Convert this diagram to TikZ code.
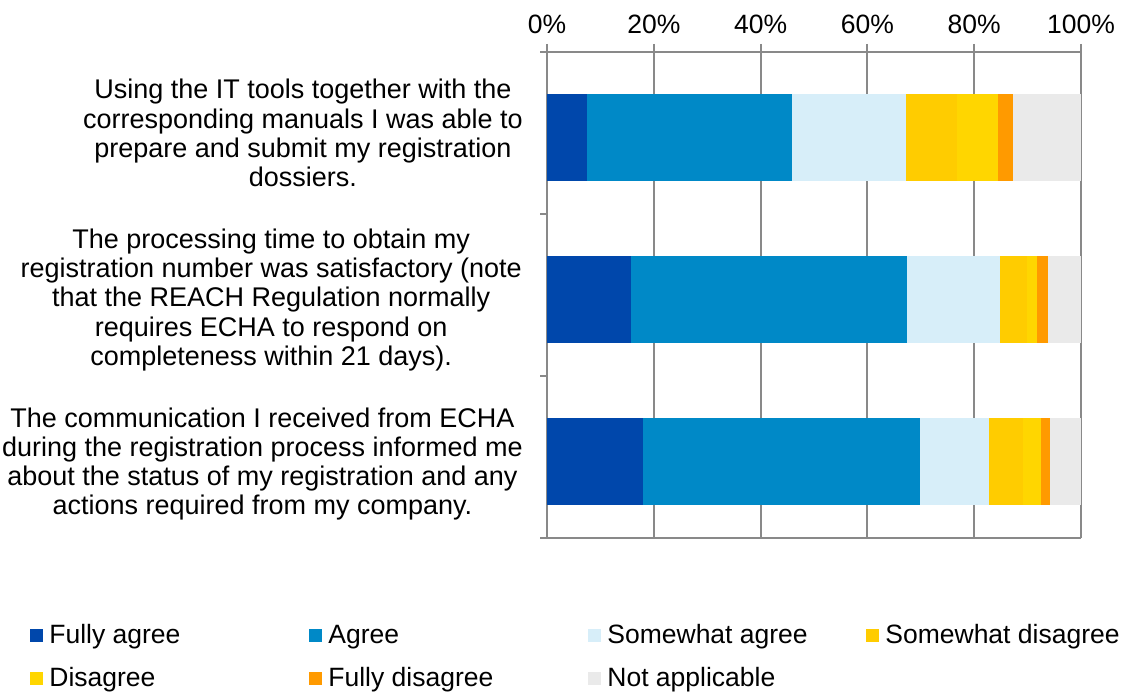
\documentclass[tikz,border=0pt]{standalone}
\usepackage{fontspec}
\setmainfont{Liberation Sans}
\usepackage{tikz}
\usetikzlibrary{arrows}
\usetikzlibrary{positioning}
\tikzset{>=latex}

\definecolor{fullyagree}{HTML}{0047AB}
\definecolor{agree}{HTML}{0089C7}
\definecolor{swagree}{HTML}{D7EEF9}
\definecolor{swdisagree}{HTML}{FFCC00}
\definecolor{disagree}{HTML}{FFD600}
\definecolor{fullydisagree}{HTML}{FF9A00}
\definecolor{notapplic}{HTML}{EAEAEA}
\definecolor{gridgrey}{HTML}{898989}

\tikzset{
  gridline/.style={draw=gridgrey, line width=2pt},
  question/.style={anchor=east, align=center, inner sep=0pt,
    font=\fontsize{27}{29.3}\selectfont},
  legendkey/.style={minimum size=13pt, inner sep=0pt},
  legendtext/.style={inner sep=0pt, anchor=west, yshift=-2pt}
}

% one stacked bar: top edge, list of cumulative percent/colour
\newcommand{\stackbar}[2]{%
  \foreach \b/\col [remember=\b as \a (initially 0)] in {#2}
    \fill[\col] ({547+5.34*\a},#1) rectangle ({547+5.34*\b},#1+87);
}

\begin{document}
\begin{tikzpicture}[x=1pt, y=-1pt, node distance=6pt,
    font=\fontsize{26.5}{29.3}\selectfont]
  \useasboundingbox (0,0) rectangle (1121,693);

  % axes and grid
  \foreach \p in {0,20,...,100} {
    \draw[gridline] ({547+5.34*\p},44) -- ({547+5.34*\p},538);
    \node (tick\p) at ({547+5.34*\p},24) {\p\%};
  }
  \draw[gridline] (540,52) -- (1081,52);
  \draw[gridline] (540,538) -- (1081,538);
  \foreach \y in {214,376}
    \draw[gridline] (540,\y) -- (547,\y);

  % bars
  \stackbar{94}{7.4/fullyagree, 45.8/agree, 67.3/swagree, 76.7/swdisagree, 84.5/disagree, 87.2/fullydisagree, 100/notapplic}
  \stackbar{256}{15.8/fullyagree, 67.4/agree, 84.9/swagree, 89.8/swdisagree, 91.7/disagree, 93.9/fullydisagree, 100/notapplic}
  \stackbar{418}{18.0/fullyagree, 69.9/agree, 82.8/swagree, 89.2/swdisagree, 92.6/disagree, 94.1/fullydisagree, 100/notapplic}

  % questions
  \node[question] (qtools) at (523,133) {Using the IT tools together with the\\
    corresponding manuals I was able to\\
    prepare and submit my registration\\
    dossiers.};
  \node[question] (qtime) at (522,300) {The processing time to obtain my\\
    registration number was satisfactory (note\\
    that the REACH Regulation normally\\
    requires ECHA to respond on\\
    completeness within 21 days).};
  \node[question] (qcomm) at (523,464) {The communication I received from ECHA\\
    during the registration process informed me\\
    about the status of my registration and any\\
    actions required from my company.};

  % legend
  \node[legendkey, fill=fullyagree] (kfa) at (36.5,635) {};
  \node[legendtext, right=of kfa] (tfa) {Fully agree};
  \node[legendkey, fill=agree] (ka) at (315.5,635) {};
  \node[legendtext, right=of ka] (ta) {Agree};
  \node[legendkey, fill=swagree] (ksa) at (594.5,635) {};
  \node[legendtext, right=of ksa] (tsa) {Somewhat agree};
  \node[legendkey, fill=swdisagree] (ksd) at (872.5,635) {};
  \node[legendtext, right=of ksd] (tsd) {Somewhat disagree};
  \node[legendkey, fill=disagree] (kd) at (36.5,678) {};
  \node[legendtext, right=of kd] (td) {Disagree};
  \node[legendkey, fill=fullydisagree] (kfd) at (315.5,678) {};
  \node[legendtext, right=of kfd] (tfd) {Fully disagree};
  \node[legendkey, fill=notapplic] (kna) at (594.5,678) {};
  \node[legendtext, right=of kna] (tna) {Not applicable};
\end{tikzpicture}
\end{document}
